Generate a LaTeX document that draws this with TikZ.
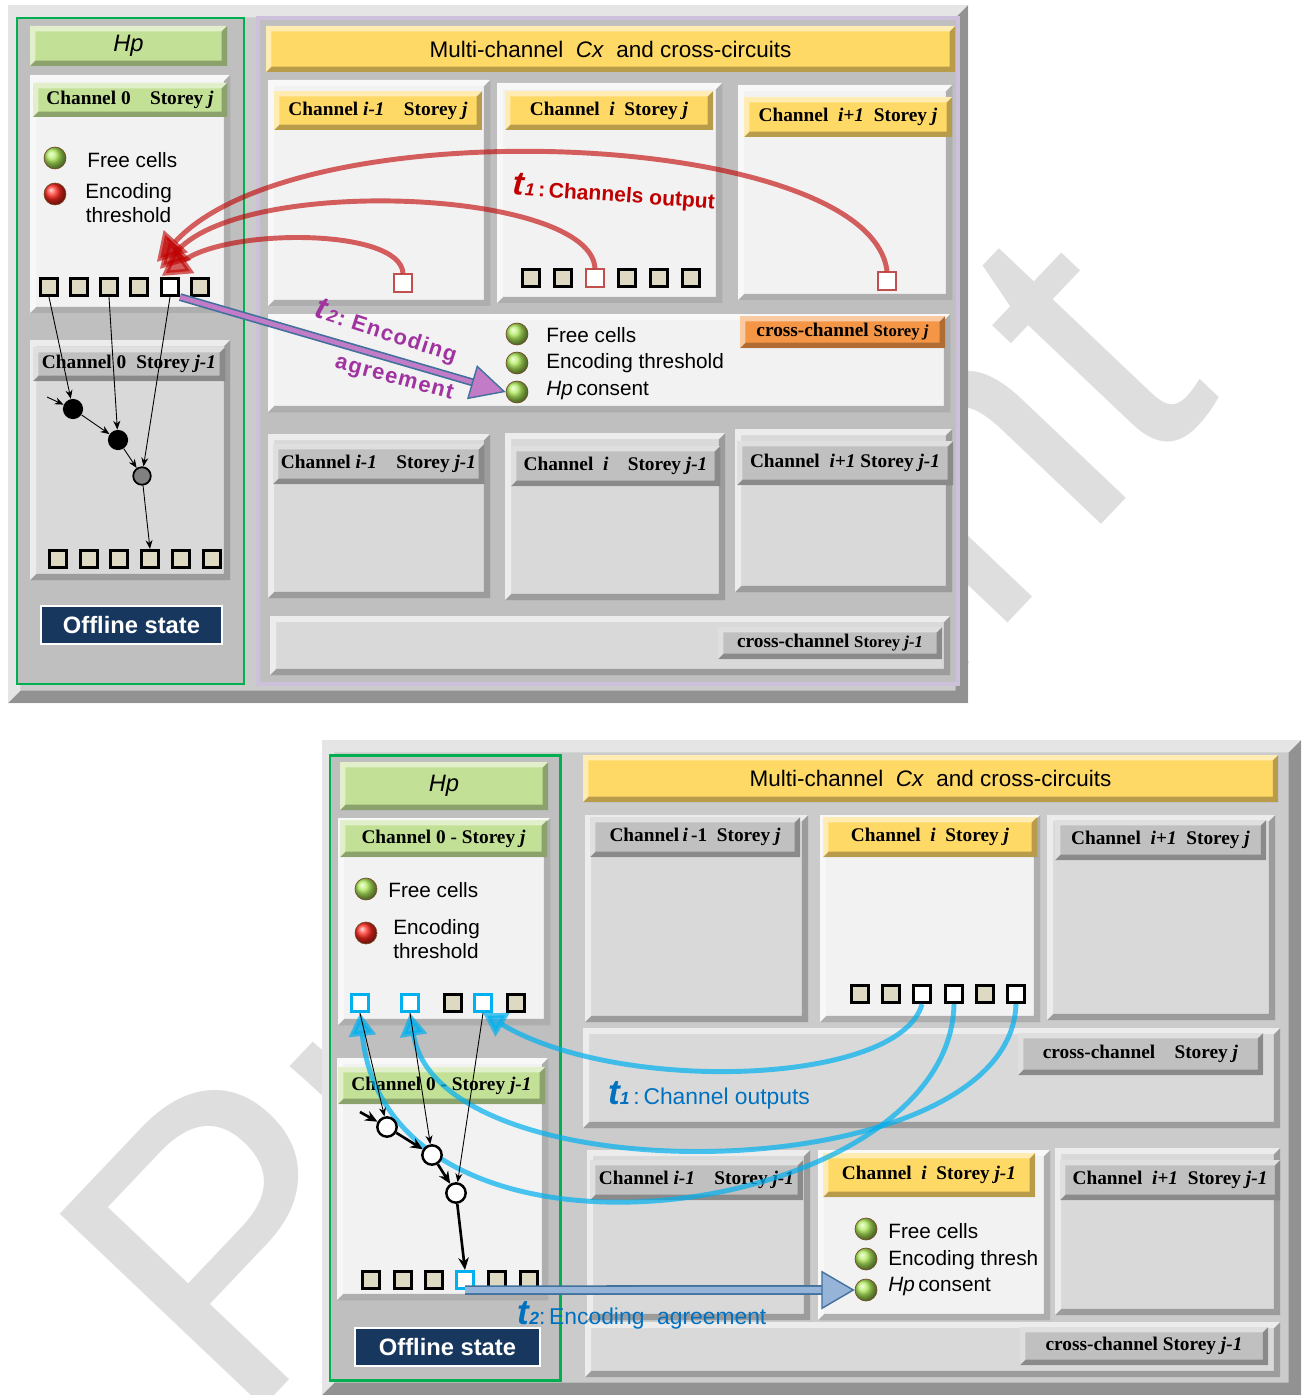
\documentclass[tikz,border=0pt]{standalone}
\usepackage{fontspec}
\setmainfont{Liberation Serif}
\setsansfont{Liberation Sans}
\usetikzlibrary{arrows.meta,fit,calc,positioning}

\definecolor{frameg}{HTML}{CBCBCB}
\definecolor{panelg}{HTML}{BFBFBF}
\definecolor{lightb}{HTML}{F2F2F2}
\definecolor{midb}{HTML}{D9D9D9}
\definecolor{hdrg}{HTML}{C0C0C0}
\definecolor{hpgreen}{RGB}{195,225,150}
\definecolor{cxyellow}{HTML}{FFD966}
\definecolor{ccorange}{HTML}{F59646}
\definecolor{cellbeige}{HTML}{DDD9C3}
\definecolor{navy}{HTML}{17375E}
\definecolor{hpframe}{HTML}{00B050}
\definecolor{lav}{HTML}{CCC0DA}
\definecolor{tred}{HTML}{C00000}
\definecolor{rcellc}{HTML}{C0504D}
\definecolor{tpurple}{HTML}{A033A0}
\definecolor{arrpurple}{HTML}{C27BC6}
\definecolor{arrblue}{HTML}{41719C}
\definecolor{lightblue}{HTML}{96B4D7}
\definecolor{tblue}{HTML}{0070C0}
\definecolor{cyanc}{HTML}{00B0F0}
\definecolor{ballgreen}{RGB}{175,235,90}
\definecolor{ballred}{RGB}{255,40,30}

\begin{document}
\begin{tikzpicture}[x=0.02cm, y=-0.02cm,
bev/.style={inner sep=0pt, path picture={
  \coordinate (bsw) at (path picture bounding box.south west);
  \coordinate (bne) at (path picture bounding box.north east);
  \fill[black, opacity=.28] (bsw) -| (bne) -- ++(-#1,-#1) |- ([shift={(#1,#1)}]bsw) -- cycle;
  \fill[white, opacity=.5] (bsw) |- (bne) -- ++(-#1,-#1) -| ([shift={(#1,#1)}]bsw) -- cycle;}},
bev/.default=3.5pt,
box/.style={bev, fill=#1},
hdr/.style n args={2}{bev=3pt, fill=#1, label={[font=\bfseries\fontsize{11}{13}\selectfont]center:#2}},
hdrs/.style n args={2}{bev=3pt, fill=#1, label={[font=\sffamily\fontsize{12.8}{15}\selectfont]center:#2}},
lgd/.style={anchor=west, inner sep=0pt, font=\sffamily\fontsize{11.8}{14}\selectfont},
ball/.style={circle, minimum size=12.5pt, inner sep=0pt, ball color=#1, draw=brown!60!black, line width=.4pt},
cell/.style={draw=black, line width=1.5pt, fill=cellbeige, minimum size=10pt, inner sep=0pt},
wcell/.style={cell, fill=white},
rcell/.style={cell, draw=rcellc, line width=1.2pt, fill=white},
bcell/.style={cell, draw=cyanc, fill=white},
bdot/.style={circle, fill=black, minimum size=11.5pt, inner sep=0pt},
gdot/.style={circle, fill=gray, draw=black, line width=1pt, minimum size=10pt, inner sep=0pt},
wdot/.style={circle, fill=white, draw=black, line width=1.4pt, minimum size=11pt, inner sep=0pt},
thinarr/.style={-{Stealth[length=5pt,width=4pt]}, line width=.5pt},
thickarr/.style={-{Stealth[length=7pt,width=6pt]}, line width=1.5pt},
redarr/.style={-{Triangle[length=16pt,width=18pt]}, line width=2.8pt, draw=tred, opacity=.62},
cyanarr/.style={-{Triangle[length=13pt,width=15pt]}, line width=2.8pt, draw=cyanc, opacity=.7},
offl/.style={fill=navy, draw=white, line width=.6pt, inner sep=0pt,
  label={[text=white, font=\sffamily\bfseries\fontsize{13.5}{15}\selectfont]center:Offline state}}]

\useasboundingbox (0,0) rectangle (1301,1395);
\node[rotate=46.5, anchor=base west, inner sep=0pt, text=black!13, font=\sffamily\fontsize{232}{232}\selectfont] (wm) at (240,1432) {Preprint};
\fill[white] (300,703) rectangle (1301,740);

% top picture: Hp and the channels
\node[box=frameg, bev=7pt, fit={(8,5) (968,703)}] (tframe) {};
\node[draw=hpframe, line width=1.7pt, fill=panelg, inner sep=0pt, fit={(17,18) (244,684)}] (thp) {};
\node[draw=lav, line width=2.8pt, fill=panelg, inner sep=0pt, fit={(258,18) (958,684)}] (tcx) {};
\node[hdrs={hpgreen}{\fontsize{13.5}{15}\selectfont\textit{Hp}}, fit={(30,26) (227,66)}] (thph) {};
\node[box=lightb, fit={(30,75) (230,313)}] (t0j) {};
\node[hdr={hpgreen}{Channel 0\quad Storey \textit{j}}, fit={(33,83) (227,117)}] (t0jh) {};
\node[box=midb, fit={(30,340) (230,580)}] (t0j1) {};
\node[hdr={hdrg}{Channel 0\; Storey \textit{j-1}}, fit={(33,347) (225,381)}] (t0j1h) {};
\node[offl, fit={(41,606) (222,644)}] (toff) {};
\node[hdrs={cxyellow}{Multi-channel\ \ \textit{Cx}\ \ and cross-circuits}, fit={(266,26) (955,72)}] (tcxh) {};

\node[box=lightb, fit={(268,80) (490,306)}] (tim1j) {};
\node[hdr={cxyellow}{Channel \textit{i-1}\quad Storey \textit{j}}, fit={(274,91) (482,130)}] (tim1jh) {};
\node[box=lightb, fit={(497,83) (722,303)}] (tij) {};
\node[hdr={cxyellow}{Channel\ \ \textit{i}\ \ Storey \textit{j}}, fit={(505,91) (713,130)}] (tijh) {};
\node[box=lightb, fit={(738,85) (952,300)}] (tip1j) {};
\node[hdr={cxyellow}{Channel\ \ \textit{i+1}\ \ Storey \textit{j}}, fit={(744,97) (952,137)}] (tip1jh) {};
\node[box=lightb, fit={(268,314) (950,412)}] (tccj) {};
\node[hdr={ccorange}{cross-channel {\fontsize{9.5}{11}\selectfont Storey \textit{j}}}, fit={(740,316) (945,348)}] (tccjh) {};
\node[box=midb, fit={(268,434) (490,598)}] (tim1j1) {};
\node[hdr={hdrg}{Channel\ \textit{i-1}\quad Storey \textit{j-1}}, fit={(273,444) (484,484)}] (tim1j1h) {};
\node[box=midb, fit={(505,433) (725,600)}] (tij1) {};
\node[hdr={hdrg}{Channel\ \ \textit{i}\quad Storey \textit{j-1}}, fit={(511,446) (720,486)}] (tij1h) {};
\node[box=midb, fit={(735,429) (952,592)}] (tip1j1) {};
\node[hdr={hdrg}{Channel\ \ \textit{i+1}\ Storey \textit{j-1}}, fit={(737,441) (953,485)}] (tip1j1h) {};
\node[box=midb, fit={(270,616) (950,675)}] (tccj1) {};
\node[hdr={hdrg}{cross-channel {\fontsize{9.5}{11}\selectfont Storey \textit{j-1}}}, fit={(718,627) (942,659)}] (tccj1h) {};

% legends
\node[ball=ballgreen] (tf1) at (55,158) {};
\node[ball=ballred] (tf2) at (55,194) {};
\node[lgd] (tf1t) at (87,160) {Free cells};
\node[lgd, align=center] (tf2t) at (85,203) {Encoding\\ threshold};
\foreach \y [count=\k] in {334,363,392} \node[ball=ballgreen] (tg\k) at (517,\y) {};
\node[lgd] (tg1t) at (546,335) {Free cells};
\node[lgd] (tg2t) at (546,363) {Encoding threshold};
\node[lgd] (tg3t) at (546,391) {\textit{Hp}\,consent};

% cells
\foreach \x/\s [count=\k] in {49/cell,79/cell,109/cell,139/cell,170/wcell,200/cell} \node[\s] (ta\k) at (\x,287) {};
\foreach \x [count=\k] in {58,89,119,150,181,212} \node[cell] (tb\k) at (\x,559) {};
\foreach \x/\s [count=\k] in {531/cell,563/cell,595/rcell,627/cell,659/cell,691/cell} \node[\s] (tc\k) at (\x,278) {};
\node[rcell] (tr1) at (403,283) {};
\node[rcell] (tr3) at (887,281) {};

% storey j-1 of channel 0
\node[bdot] (tn1) at (73,409) {};
\node[bdot] (tn2) at (118,440) {};
\node[gdot] (tn3) at (142,476) {};
\coordinate (tin) at (47,397);
\draw[thinarr] (tin) -- (tn1);
\draw[thinarr] (ta1.south) -- (tn1);
\draw[thinarr] (ta3.south) -- (tn2);
\draw[thinarr] (ta5.south) -- (tn3);
\draw[thinarr] (tn1) -- (tn2);
\draw[thinarr] (tn2) -- (tn3);
\draw[thinarr] (tn3) -- (tb4.north);

% t1 and t2
\draw[redarr] (tr1.north) .. controls (400,228) and (230,228) .. ([shift={(2,-1)}]ta5.north west);
\draw[redarr] (tc3.north) .. controls (590,190) and (250,175) .. ([shift={(0,-8)}]ta5.north west);
\draw[redarr] (tr3.north) .. controls (870,130) and (300,105) .. ([shift={(-3,-15)}]ta5.north west);
\node[text=tred, rotate=-4, font=\sffamily\bfseries\fontsize{12}{14}\selectfont] (t1lab) at (614,193)
  {{\fontsize{19}{19}\selectfont\textit{t}}{\fontsize{10}{10}\selectfont\textit{1}}\,:\,Channels output};
\draw[line width=4.5pt, arrblue, shorten >=18pt] (ta5.south east) -- (tg3.west);
\draw[line width=2.6pt, arrpurple, shorten >=18pt] (ta5.south east) -- (tg3.west);
\draw[arrblue, line width=.8pt, -{Triangle[length=20pt,width=20pt,fill=arrpurple]}] ($(tg3.west)!20pt!(ta5.south east)$) -- (tg3.west);
\node[text=tpurple, rotate=-18, font=\sffamily\bfseries\fontsize{12.5}{14}\selectfont\addfontfeature{LetterSpace=6}] (t2lab) at (386,332)
  {{\fontsize{18}{18}\selectfont\textit{t}}{\fontsize{10}{10}\selectfont\textit{2}}:\ Encoding};
\node[text=tpurple, rotate=-15, font=\sffamily\bfseries\fontsize{12.5}{14}\selectfont\addfontfeature{LetterSpace=6}] (t2labb) at (394,379) {agreement};

% bottom picture: the same storeys one step later
\node[box=frameg, bev=7pt, fit={(322,740) (1301,1395)}] (bframe) {};
\node[draw=hpframe, line width=1.7pt, fill=panelg, inner sep=0pt, fit={(330,755) (560,1380)}] (bhp) {};
\node[hdrs={hpgreen}{\fontsize{13.5}{15}\selectfont\textit{Hp}}, fit={(340,762) (548,810)}] (bhph) {};
\node[box=lightb, fit={(338,818) (550,1025)}] (b0j) {};
\node[hdr={hpgreen}{Channel 0 - Storey \textit{j}}, fit={(340,820) (547,857)}] (b0jh) {};
\node[box=lightb, fit={(337,1058) (548,1300)}] (b0j1) {};
\node[hdr={hpgreen}{Channel 0 - Storey \textit{j-1}}, fit={(338,1067) (545,1104)}] (b0j1h) {};
\node[offl, fit={(355,1328) (540,1366)}] (boff) {};
\node[hdrs={cxyellow}{Multi-channel\ \ \textit{Cx}\ \ and cross-circuits}, fit={(583,755) (1278,802)}] (bcxh) {};

\node[box=midb, fit={(585,815) (808,1022)}] (bim1j) {};
\node[hdr={hdrg}{Channel\,\textit{i}\,-1\ \ Storey \textit{j}}, fit={(590,817) (800,857)}] (bim1jh) {};
\node[box=lightb, fit={(820,815) (1040,1022)}] (bij) {};
\node[hdr={cxyellow}{Channel\ \ \textit{i}\ \ Storey \textit{j}}, fit={(823,817) (1037,857)}] (bijh) {};
\node[box=midb, fit={(1047,815) (1275,1020)}] (bip1j) {};
\node[hdr={hdrg}{Channel\ \ \textit{i+1}\ \ Storey \textit{j}}, fit={(1055,820) (1266,860)}] (bip1jh) {};
\node[box=midb, fit={(583,1028) (1280,1128)}] (bccj) {};
\node[hdr={hdrg}{cross-channel\quad Storey \textit{j}}, fit={(1018,1033) (1263,1075)}] (bccjh) {};
\node[box=midb, fit={(587,1150) (810,1320)}] (bim1j1) {};
\node[hdr={hdrg}{Channel\ \textit{i-1}\quad Storey \textit{j-1}}, fit={(590,1160) (803,1200)}] (bim1j1h) {};
\node[box=lightb, fit={(818,1150) (1050,1320)}] (bij1) {};
\node[hdr={cxyellow}{Channel\ \ \textit{i}\ \ Storey \textit{j-1}}, fit={(823,1153) (1035,1197)}] (bij1h) {};
\node[box=midb, fit={(1055,1148) (1280,1315)}] (bip1j1) {};
\node[hdr={hdrg}{Channel\ \ \textit{i+1}\ \ Storey \textit{j-1}}, fit={(1060,1160) (1280,1200)}] (bip1j1h) {};
\node[box=midb, fit={(585,1322) (1280,1377)}] (bccj1) {};
\node[hdr={hdrg}{cross-channel Storey \textit{j-1}}, fit={(1020,1327) (1268,1365)}] (bccj1h) {};

% legends
\node[ball=ballgreen] (bf1) at (366,889) {};
\node[ball=ballred] (bf2) at (366,933) {};
\node[lgd] (bf1t) at (388,890) {Free cells};
\node[lgd, align=left] (bf2t) at (393,939) {Encoding\\threshold};
\foreach \y [count=\k] in {1229,1259,1290} \node[ball=ballgreen] (bg\k) at (866,\y) {};
\node[lgd] (bg1t) at (888,1231) {Free cells};
\node[lgd] (bg2t) at (888,1260) {Encoding thresh};
\node[lgd] (bg3t) at (888,1287) {\textit{Hp}\,consent};

% cells
\foreach \x/\s [count=\k] in {360/bcell,410/bcell,453/cell,483/bcell,516/cell} \node[\s] (be\k) at (\x,1003) {};
\foreach \x/\s [count=\k] in {371/cell,403/cell,434/cell,465/bcell,497/cell,529/cell} \node[\s] (bf\k) at (\x,1280) {};
\foreach \x/\s [count=\k] in {860/cell,891/cell,922/wcell,954/wcell,985/cell,1016/wcell} \node[\s] (bh\k) at (\x,994) {};

% t1: channel outputs
\draw[cyanarr] (bh3.south) .. controls (900,1085) and (620,1095) .. (be4.south);
\draw[cyanarr] (bh4.south) .. controls (950,1220) and (390,1300) .. (be1.south);
\draw[cyanarr] (bh6.south) .. controls (1010,1190) and (440,1200) .. (be2.south);
\node[text=tblue, font=\sffamily\fontsize{13}{15}\selectfont] (b1lab) at (709,1095)
  {{\bfseries\itshape\fontsize{20}{20}\selectfont t}{\bfseries\itshape\fontsize{10}{10}\selectfont 1}\,:\,Channel outputs};

% storey j-1 of channel 0
\node[wdot] (bn1) at (387,1127) {};
\node[wdot] (bn2) at (432,1155) {};
\node[wdot] (bn3) at (456,1193) {};
\coordinate (bin) at (360,1112);
\draw[thinarr] (be1.south) -- (bn1);
\draw[thinarr] (be2.south) -- (bn2);
\draw[thinarr] (be4.south) -- (bn3);
\draw[thickarr] (bin) -- (bn1);
\draw[thickarr] (bn1) -- (bn2);
\draw[thickarr] (bn2) -- (bn3);
\draw[thickarr] (bn3) -- (bf4.north);

% t2: encoding agreement
\draw[line width=5.5pt, arrblue, shorten >=17pt] (bf4.south) -- (bg3.west);
\draw[line width=3.5pt, lightblue, shorten >=17pt] (bf4.south) -- (bg3.west);
\draw[arrblue, line width=.8pt, -{Triangle[length=19pt,width=22pt,fill=lightblue]}] ($(bg3.west)!19pt!(bf4.south)$) -- (bg3.west);
\node[text=tblue, font=\sffamily\fontsize{13}{15}\selectfont] (b2lab) at (642,1315)
  {{\bfseries\itshape\fontsize{20}{20}\selectfont t}{\bfseries\itshape\fontsize{10}{10}\selectfont 2}:\,Encoding\ \ agreement};
\end{tikzpicture}
\end{document}
